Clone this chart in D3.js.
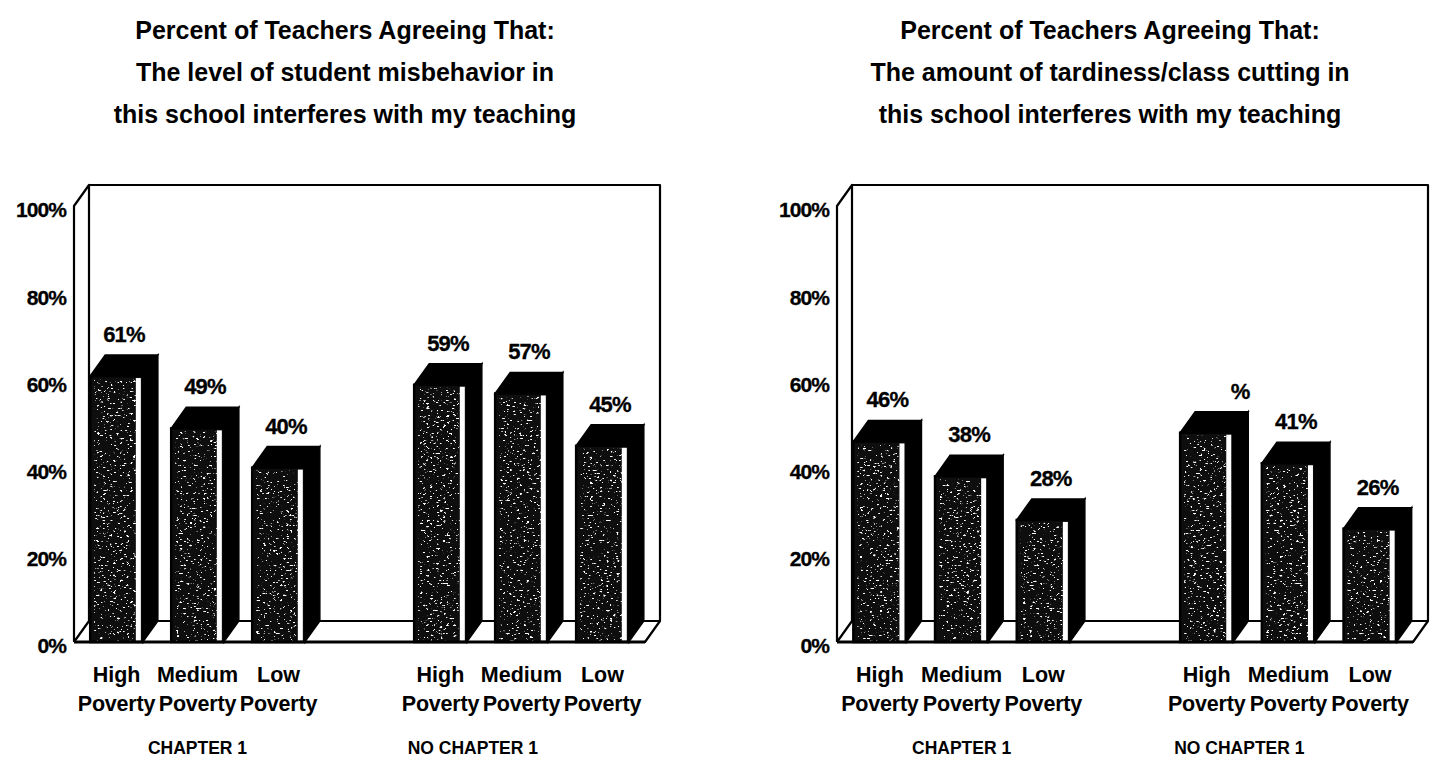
<!DOCTYPE html>
<html>
<head>
<meta charset="utf-8">
<script src="https://cdn.jsdelivr.net/npm/d3@7"></script>
<style>
  html, body { margin: 0; padding: 0; background: #fff; }
  svg { display: block; font-family: "Liberation Sans", Arial, Helvetica, sans-serif; }
</style>
</head>
<body>
<svg id="chart" width="1430" height="766"></svg>
<script>
// ---------------- data ----------------
const groups = ["CHAPTER 1", "NO CHAPTER 1"];
const levels = ["High", "Medium", "Low"];
const levelSub = "Poverty";
const slots = ["C1-High", "C1-Medium", "C1-Low", "gap", "NC1-High", "NC1-Medium", "NC1-Low"];
const barSlots = ["C1-High", "C1-Medium", "C1-Low", "NC1-High", "NC1-Medium", "NC1-Low"];
const misbehavior = [61, 49, 40, 59, 57, 45];
const misbehaviorLabels = ["61%", "49%", "40%", "59%", "57%", "45%"];
const tardiness = [46, 38, 28, 48, 41, 26];
const tardinessLabels = ["46%", "38%", "28%", "%", "41%", "26%"];
const yTicks = [0, 20, 40, 60, 80, 100];
const titleLeft = ["Percent of Teachers Agreeing That:", "The level of student misbehavior in", "this school interferes with my teaching"];
const titleRight = ["Percent of Teachers Agreeing That:", "The amount of tardiness/class cutting in", "this school interferes with my teaching"];

// ---------------- layout ----------------
const svg = d3.select("#chart");
const DX = 15, DY = -21;           // 3-D depth offset
const Y0 = 642, Y100 = 206;        // front floor / 100% on front plane

// speckle texture filter
const defs = svg.append("defs");
const f = defs.append("filter").attr("id", "speck").attr("x", 0).attr("y", 0).attr("width", 1).attr("height", 1);
f.append("feTurbulence").attr("type", "fractalNoise").attr("baseFrequency", "0.3 0.6").attr("numOctaves", 2).attr("seed", 7).attr("result", "n");
f.append("feColorMatrix").attr("in", "n").attr("type", "matrix")
  .attr("values", "0 0 0 0 1  0 0 0 0 1  0 0 0 0 1  14 0 0 0 -9.0").attr("result", "m");
f.append("feComposite").attr("in", "m").attr("in2", "SourceGraphic").attr("operator", "in");

const panels = [
  { ox: 0, right: 660, values: misbehavior, labels: misbehaviorLabels, title: titleLeft, tcx: 345 },
  { ox: 763, right: 1428, values: tardiness, labels: tardinessLabels, title: titleRight, tcx: 1110 }
];

panels.forEach((p, pi) => {
  const g = svg.append("g");
  const xLeft = p.ox + 74;
  const x = d3.scaleBand().domain(slots).range([xLeft, p.right - DX]).paddingInner(0.35).paddingOuter(0.2);
  const y = d3.scaleLinear().domain([0, 100]).range([Y0, Y100]);
  const bw = x.bandwidth();

  // title
  g.append("g").selectAll("text").data(p.title).join("text")
    .attr("x", p.tcx).attr("y", (d, i) => 39 + i * 42)
    .attr("text-anchor", "middle").attr("font-size", 25).attr("font-weight", "bold")
    .text(d => d);

  // frame (walls + floor)
  const frame = g.append("g").attr("fill", "none").attr("stroke", "#000").attr("stroke-width", 2.2).attr("stroke-linejoin", "round");
  const bx = xLeft + DX, topY = y(100) + DY, floorBack = y(0) + DY;
  const path = d3.path();
  path.moveTo(xLeft, y(0)); path.lineTo(xLeft, y(100)); path.lineTo(bx, topY); path.lineTo(bx, floorBack); path.lineTo(xLeft, y(0));
  path.moveTo(bx, topY); path.lineTo(p.right, topY); path.lineTo(p.right, floorBack);
  path.moveTo(bx, floorBack); path.lineTo(p.right, floorBack); path.lineTo(p.right - DX, y(0)); path.lineTo(xLeft, y(0));
  frame.append("path").attr("d", path.toString());

  // y axis labels
  const axis = d3.axisLeft(y).tickValues(yTicks).tickFormat(d => d + "%").tickSize(0).tickPadding(0);
  const ax = g.append("g").attr("transform", `translate(${p.ox + 66},0)`).call(axis);
  ax.select(".domain").remove();
  ax.selectAll("text").attr("font-size", 21).attr("font-weight", "bold").attr("fill", "#000")
    .attr("font-family", "'Liberation Sans', Arial, sans-serif").attr("letter-spacing", -0.9)
    .attr("stroke", "#000").attr("stroke-width", 0.3).attr("dy", "0.52em");

  // bars
  const data = barSlots.map((s, i) => ({ slot: s, v: p.values[i], label: p.labels[i] }));
  const bars = g.append("g").selectAll("g").data(data).join("g");
  bars.append("path").attr("fill", "#000").attr("stroke", "#000").attr("stroke-width", 1.5)
    .attr("d", d => { const x0 = x(d.slot), yv = y(d.v);
      return `M${x0 + bw},${yv}L${x0 + bw + DX},${yv + DY}L${x0 + bw + DX},${y(0) + DY}L${x0 + bw},${y(0)}Z`; });
  bars.append("path").attr("fill", "#000").attr("stroke", "#000").attr("stroke-width", 1.5)
    .attr("d", d => { const x0 = x(d.slot), yv = y(d.v);
      return `M${x0},${yv}L${x0 + DX},${yv + DY}L${x0 + bw + DX},${yv + DY}L${x0 + bw},${yv}Z`; });
  bars.append("rect").attr("x", d => x(d.slot)).attr("y", d => y(d.v))
    .attr("width", bw).attr("height", d => y(0) - y(d.v)).attr("fill", "#0e0e0e");
  bars.append("rect").attr("x", d => x(d.slot) + 4).attr("y", d => y(d.v) + 3)
    .attr("width", bw - 11).attr("height", d => y(0) - y(d.v) - 3).attr("fill", "#fff").attr("filter", "url(#speck)");
  bars.append("rect").attr("x", d => x(d.slot) + bw - 7).attr("y", d => y(d.v) + 2)
    .attr("width", 5).attr("height", d => y(0) - y(d.v) - 2).attr("fill", "#fff");
  bars.append("rect").attr("x", d => x(d.slot)).attr("y", d => y(d.v))
    .attr("width", bw).attr("height", d => y(0) - y(d.v)).attr("fill", "none").attr("stroke", "#000").attr("stroke-width", 2.5);

  // value labels
  bars.append("text")
    .attr("x", d => d.label === "%" ? x(d.slot) + bw + DX - 8 : x(d.slot) + (bw + DX) / 2)
    .attr("y", d => y(d.v) + DY - 13)
    .attr("text-anchor", "middle").attr("font-size", 22).attr("font-weight", "bold").attr("letter-spacing", -0.8)
    .attr("stroke", "#000").attr("stroke-width", 0.3)
    .text(d => d.label);

  // floor front line on top
  g.append("line").attr("x1", xLeft).attr("x2", p.right - DX).attr("y1", y(0)).attr("y2", y(0))
    .attr("stroke", "#000").attr("stroke-width", 3);

  // category labels
  const cat = g.append("g").attr("font-size", 21.5).attr("font-weight", "bold").attr("text-anchor", "middle");
  barSlots.forEach((s, i) => {
    const cx = x(s) + bw / 2;
    cat.append("text").attr("x", cx).attr("y", 682).text(levels[i % 3]);
    cat.append("text").attr("x", cx).attr("y", 711).attr("letter-spacing", -0.2).text(levelSub);
  });
  // group labels
  const gl = g.append("g").attr("font-size", 17.5).attr("font-weight", "bold").attr("text-anchor", "middle");
  gl.append("text").attr("x", x("C1-Medium") + bw / 2).attr("y", 754).text(groups[0]);
  gl.append("text").attr("x", x("NC1-High") + bw / 2 + 0.4 * x.step()).attr("y", 754).text(groups[1]);
});
</script>
</body>
</html>
